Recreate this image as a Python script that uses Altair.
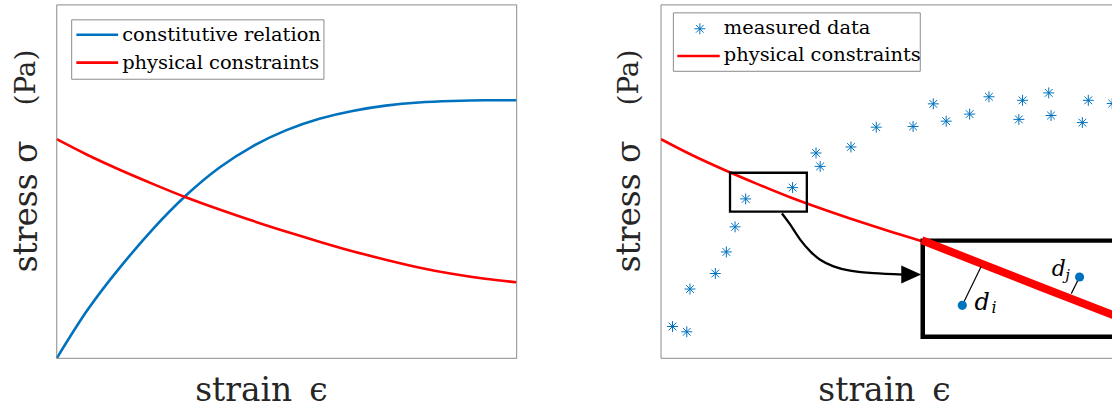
import altair as alt
import pandas as pd

# ---------------- data ----------------
strain = [0.0, 0.066, 0.138, 0.210, 0.282, 0.354, 0.426, 0.498, 0.571, 0.643, 0.715, 0.787, 0.859, 0.931, 1.0]
constitutive_relation = [0.0, 0.135, 0.258, 0.367, 0.462, 0.540, 0.600, 0.645, 0.678, 0.700, 0.715, 0.724, 0.728, 0.730, 0.730]
physical_constraints = [0.620, 0.576, 0.533, 0.493, 0.455, 0.421, 0.389, 0.359, 0.330, 0.303, 0.279, 0.257, 0.239, 0.225, 0.215]

measured_strain = [0.025, 0.056, 0.063, 0.118, 0.142, 0.161, 0.184, 0.286, 0.337, 0.346, 0.413, 0.468,
                   0.548, 0.592, 0.620, 0.671, 0.713, 0.778, 0.786, 0.843, 0.848, 0.916, 0.929, 0.981]
measured_stress = [0.090, 0.075, 0.196, 0.240, 0.301, 0.372, 0.451, 0.483, 0.581, 0.543, 0.598, 0.654,
                   0.656, 0.720, 0.671, 0.691, 0.740, 0.676, 0.730, 0.751, 0.687, 0.667, 0.730, 0.721]

# annotation anchors (strain / stress units)
zoom_strain = [0.150, 0.317]
zoom_stress = [0.415, 0.525]
inset_strain = [0.569, 1.03]
inset_stress = [0.061, 0.333]
zoomed_constraint_strain = [0.567, 0.823, 1.017]
zoomed_constraint_stress = [0.334, 0.203, 0.105]
arrow_strain = [0.263, 0.281, 0.303, 0.325, 0.346, 0.375, 0.411, 0.462, 0.527]
arrow_stress = [0.410, 0.378, 0.335, 0.302, 0.279, 0.260, 0.248, 0.241, 0.237]
arrow_tip = [0.544, 0.237]
d_point_strain = [0.655, 0.910]
d_point_stress = [0.150, 0.230]
d_foot_strain = [0.696, 0.892]
d_foot_stress = [0.260, 0.183]
d_text = ["d", "i", "d", "j"]
d_text_strain = [0.6818, 0.7186, 0.8496, 0.8788]
d_text_stress = [0.138, 0.128, 0.232, 0.2225]
d_text_size = [24, 16, 22, 15]

# ---------------- styles ----------------
FONT = "DejaVu Serif"
BLUE = "#0072BD"
RED = "#FF0000"
GRAY = "#8a8a8a"
TXT = "#262626"
W_L, W_R, H = 462, 453, 355
DOM_L = [0, 1]
DOM_R = [0, W_R / W_L]
ASTERISK = "M-1,0L1,0M0,-1L0,1M-0.7071,-0.7071L0.7071,0.7071M-0.7071,0.7071L0.7071,-0.7071"
TRI = "M-1,-0.9L1,0L-1,0.9Z"

one = pd.DataFrame({"k": [0]})


def x_axis(tx):
    return alt.Axis(title="strain \u2009ϵ", labels=False, ticks=False, domain=False, grid=False,
                    titleFont=FONT, titleFontSize=33, titleFontWeight="normal", titleColor=TXT,
                    titleX=tx, titleY=42, titleAlign="center", titleBaseline="alphabetic")


def y_axis(tx):
    return alt.Axis(title="stress σ", labels=False, ticks=False, domain=False, grid=False,
                    titleFont=FONT, titleFontSize=33, titleFontWeight="normal", titleColor=TXT,
                    titleX=tx, titleY=202, titleAngle=270, titleAlign="center",
                    titleBaseline="alphabetic")


def XL(field):
    return alt.X(f"{field}:Q", scale=alt.Scale(domain=DOM_L, nice=False, zero=False), axis=x_axis(205))


def XR(field):
    return alt.X(f"{field}:Q", scale=alt.Scale(domain=DOM_R, nice=False, zero=False), axis=x_axis(224))


def YL(field):
    return alt.Y(f"{field}:Q", scale=alt.Scale(domain=[0, 1], nice=False, zero=False), axis=y_axis(-20))


def YR(field):
    return alt.Y(f"{field}:Q", scale=alt.Scale(domain=[0, 1], nice=False, zero=False), axis=y_axis(-22))


def vtext(txt, x, y, size=19.5, color="#000000", **kw):
    return alt.Chart(one).mark_text(align="left", baseline="alphabetic", font=FONT,
                                    fontSize=size, color=color, **kw).encode(
        x=alt.value(x), y=alt.value(y), text=alt.value(txt))


def vrect(x, x2, y, y2, **kw):
    return alt.Chart(one).mark_rect(**kw).encode(
        x=alt.value(x), x2=alt.value(x2), y=alt.value(y), y2=alt.value(y2))


def vrule(x, x2, y, y2, color, width):
    return alt.Chart(one).mark_rule(color=color, strokeWidth=width).encode(
        x=alt.value(x), x2=alt.value(x2), y=alt.value(y), y2=alt.value(y2))


def pa_label(x):
    return alt.Chart(one).mark_text(angle=270, align="center", baseline="alphabetic", font=FONT,
                                    fontSize=28, color=TXT).encode(
        x=alt.value(x), y=alt.value(73), text=alt.value("(Pa)"))


curves = pd.DataFrame({"strain": strain, "constitutive": constitutive_relation,
                       "constraints": physical_constraints})

# ---------------- left panel ----------------
left_blue = alt.Chart(curves).mark_line(color=BLUE, strokeWidth=2.6, interpolate="natural").encode(
    x=XL("strain"), y=YL("constitutive"))
left_red = alt.Chart(curves).mark_line(color=RED, strokeWidth=2.6, interpolate="natural").encode(
    x=XL("strain"), y=YL("constraints"))
left_frame = vrect(0, W_L, 0, H, fillOpacity=0, stroke=GRAY, strokeWidth=1)

left = alt.layer(
    left_blue, left_red, left_frame,
    vrect(15, 268.4, 15, 74.7, fill="white", stroke=GRAY, strokeWidth=1),
    vrule(19.7, 61.7, 30, 30, BLUE, 2.6),
    vrule(19.7, 61.7, 58, 58, RED, 2.6),
    vtext("constitutive relation", 65.7, 36.4),
    vtext("physical constraints", 65.7, 64),
    pa_label(-21.6),
).properties(width=W_L, height=H)

# ---------------- right panel ----------------
meas = pd.DataFrame({"strain": measured_strain, "stress": measured_stress})
zoom_df = pd.DataFrame({"s1": [zoom_strain[0]], "s2": [zoom_strain[1]],
                        "t1": [zoom_stress[0]], "t2": [zoom_stress[1]]})
inset_df = pd.DataFrame({"s1": [inset_strain[0]], "s2": [inset_strain[1]],
                         "t1": [inset_stress[0]], "t2": [inset_stress[1]]})
zline = pd.DataFrame({"strain": zoomed_constraint_strain, "stress": zoomed_constraint_stress})
arrow = pd.DataFrame({"strain": arrow_strain, "stress": arrow_stress})
tip = pd.DataFrame({"strain": [arrow_tip[0]], "stress": [arrow_tip[1]]})
dpts = pd.DataFrame({"strain": d_point_strain, "stress": d_point_stress,
                     "strain2": d_foot_strain, "stress2": d_foot_stress})
dtxt = pd.DataFrame({"t": d_text, "strain": d_text_strain, "stress": d_text_stress, "fs": d_text_size})

r_red = alt.Chart(curves).mark_line(color=RED, strokeWidth=2.6, interpolate="natural", clip=True).encode(
    x=XR("strain"), y=YR("constraints"))
r_meas = alt.Chart(meas).mark_point(shape=ASTERISK, size=121, filled=False, color=BLUE,
                                    strokeWidth=1, opacity=1, clip=True).encode(
    x=XR("strain"), y=YR("stress"))
r_zoom = alt.Chart(zoom_df).mark_rect(fillOpacity=0, stroke="black", strokeWidth=2.3).encode(
    x=XR("s1"), x2="s2:Q", y=YR("t1"), y2="t2:Q")
r_arrow = alt.Chart(arrow).mark_line(color="black", strokeWidth=2.3, interpolate="natural").encode(
    x=XR("strain"), y=YR("stress"))
r_tip = alt.Chart(tip).mark_point(shape=TRI, size=400, filled=True, color="black", opacity=1,
                                  strokeWidth=0).encode(x=XR("strain"), y=YR("stress"))
r_inset = alt.Chart(inset_df).mark_rect(fill="white", stroke="black", strokeWidth=4.5, clip=True).encode(
    x=XR("s1"), x2="s2:Q", y=YR("t1"), y2="t2:Q")
r_zline = alt.Chart(zline).mark_line(color=RED, strokeWidth=8, clip=True).encode(
    x=XR("strain"), y=YR("stress"))
r_dlines = alt.Chart(dpts).mark_rule(color="black", strokeWidth=1.2).encode(
    x=XR("strain"), y=YR("stress"), x2="strain2:Q", y2="stress2:Q")
r_dpts = alt.Chart(dpts).mark_point(shape="circle", size=85, filled=True, color=BLUE, opacity=1).encode(
    x=XR("strain"), y=YR("stress"))
r_dtxt = alt.Chart(dtxt).mark_text(align="left", baseline="alphabetic", font=FONT, fontStyle="italic",
                                   color="#000000").encode(
    x=XR("strain"), y=YR("stress"), text="t:N", size=alt.Size("fs:Q", scale=None))

r_legend_star = alt.Chart(one).mark_point(shape=ASTERISK, size=121, filled=False, color=BLUE,
                                          strokeWidth=1, opacity=1).encode(
    x=alt.value(39), y=alt.value(24))

right = alt.layer(
    vrule(0, 0, 0, H, GRAY, 1),
    vrule(0, W_R, 0, 0, GRAY, 1),
    vrule(0, W_R, H, H, GRAY, 1),
    r_red, r_meas, r_zoom, r_arrow, r_tip, r_inset, r_zline, r_dlines, r_dpts, r_dtxt,
    vrect(12.4, 260.4, 8, 66.7, fill="white", stroke=GRAY, strokeWidth=1),
    r_legend_star,
    vrule(16.4, 59, 51.4, 51.4, RED, 2.6),
    vtext("measured data", 63, 29),
    vtext("physical constraints", 63, 56.7),
    pa_label(-23.6),
).properties(width=W_R, height=H)

chart = alt.hconcat(left, right, spacing=90).properties(
    padding={"left": 10, "top": 3, "right": 0, "bottom": 0},
    background="white",
).configure_view(stroke="transparent")

chart.save("out.html", embed_options={"renderer": "svg", "actions": False})
